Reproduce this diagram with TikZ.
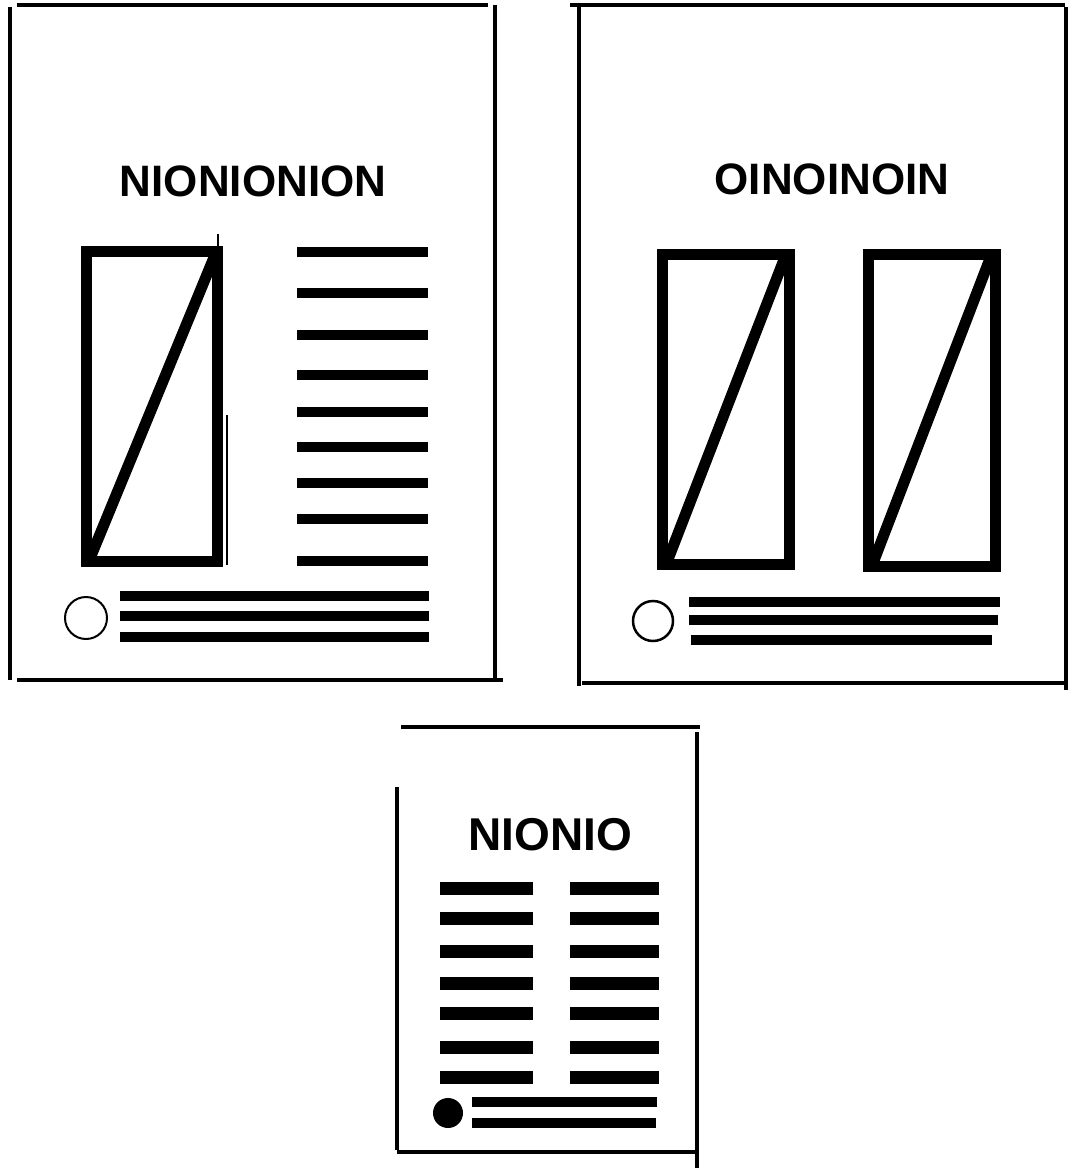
\documentclass[tikz,border=0pt]{standalone}
\usepackage{fontspec}
\setmainfont{Liberation Sans}
\usetikzlibrary{positioning}
\tikzset{
  frameline/.style={line width=4pt},
  picbox/.style={line width=11pt, line join=miter},
  textbar/.style={line width=10pt},
  bigbar/.style={line width=13pt},
  handtitle/.style={font=\fontsize{44}{44}\selectfont\bfseries, inner sep=0pt},
}

\begin{document}
\begin{tikzpicture}[x=1pt,y=-1pt]
  \useasboundingbox (0,0) rectangle (1071,1169);

  % left page: one picture, one column
  \draw[frameline] (17,5) -- (488,5);
  \draw[frameline] (10,7) -- (10,680);
  \draw[frameline] (495,5) -- (495,678);
  \draw[frameline] (17,680) -- (503,680);
  \node[handtitle] (titleA) at (253,181) {NIONIONION};
  \draw[picbox] (86,251) rectangle (217,561);
  \draw[picbox] (91,556) -- (215,255);
  \draw[line width=2pt] (227,415) -- (227,565);
  \draw[line width=2pt] (218,234) -- (218,250);
  \foreach \y in {252,293,335,375,412,447,483,519,561}
    \draw[textbar] (297,\y) -- (428,\y);
  \draw[line width=2pt] (86,618) circle (21);
  \foreach \y in {596,616,637}
    \draw[textbar] (120,\y) -- (429,\y);

  % right page: two pictures
  \draw[frameline] (570,5) -- (1065,5);
  \draw[frameline] (579,7) -- (579,686);
  \draw[frameline] (1066,7) -- (1066,690);
  \draw[frameline] (582,683) -- (1067,683);
  \node[handtitle] (titleB) at (832,179) {OINOINOIN};
  \draw[picbox] (662,254) rectangle (789,564);
  \draw[picbox] (667,562) -- (785,257);
  \draw[picbox] (868,254) rectangle (995,566);
  \draw[picbox] (873,563) -- (991,256);
  \draw[line width=2.5pt] (653,621) circle (20);
  \draw[textbar] (689,602) -- (1000,602);
  \draw[textbar] (689,620) -- (998,620);
  \draw[textbar] (691,640) -- (992,640);

  % bottom page: two columns
  \draw[frameline] (401,727) -- (700,727);
  \draw[frameline] (697,732) -- (697,1168);
  \draw[frameline] (397,787) -- (397,1150);
  \draw[frameline] (397,1152) -- (695,1152);
  \node[handtitle, font=\fontsize{46}{46}\selectfont\bfseries] (titleC) at (550,835) {NIONIO};
  \foreach \y in {888,918,951,983,1013,1047,1077} {
    \draw[bigbar] (440,\y) -- (533,\y);
    \draw[bigbar] (570,\y) -- (659,\y);
  }
  \fill (448,1113) circle (15);
  \draw[textbar] (472,1102) -- (657,1102);
  \draw[textbar] (472,1123) -- (656,1123);
\end{tikzpicture}
\end{document}
